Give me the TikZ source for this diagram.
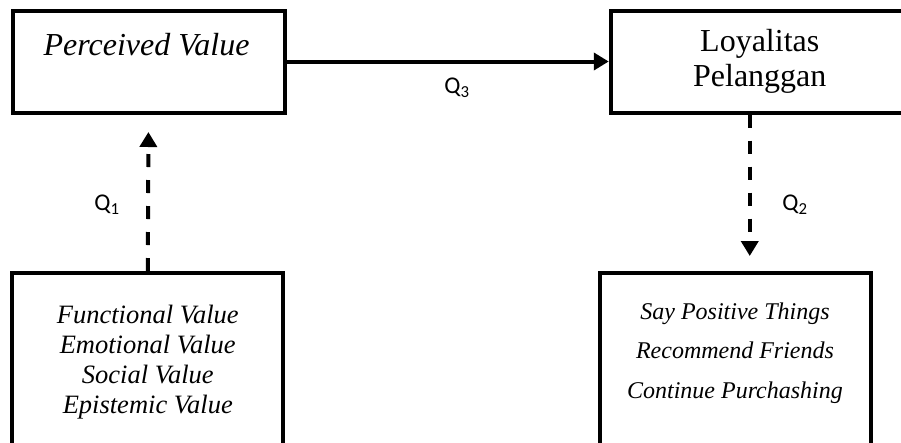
\documentclass[tikz,border=0pt]{standalone}
\usepackage{fontspec}
\setmainfont{Liberation Serif}
\newfontfamily\qfont{Carlito}
\usetikzlibrary{arrows.meta}

\begin{document}
\begin{tikzpicture}[x=1pt,y=-1pt,
		box/.style={rectangle,draw,line width=4pt,inner sep=0pt},
		arr/.style={line width=4pt,-{Triangle[length=15pt,width=17pt]}},
		dasharr/.style={arr,dash pattern=on 13pt off 13pt},
		qlab/.style={font=\qfont\fontsize{24}{28}\selectfont}]
				\useasboundingbox (0,0) rectangle (901,442);
				\clip (0,0) rectangle (901,442);
				
				\node(pv) at (148.5,61.5)[box,minimum width=272pt,minimum height=102pt]{};
				\node(pvtext) at (146.5,55)[anchor=base,font=\itshape\fontsize{32}{36}\selectfont]{Perceived Value};
				\node(loy) at (759.75,61.5)[box,minimum width=298pt,minimum height=102pt,align=center,font=\fontsize{32}{35}\selectfont]{Loyalitas\\Pelanggan};
				\node(fv) at (147.75,362)[box,minimum width=271pt,minimum height=178pt,align=center,font=\itshape\fontsize{26.5}{30}\selectfont]{Functional Value\\Emotional Value\\Social Value\\Epistemic Value};
				\node(li) at (735,362)[box,minimum width=271pt,minimum height=178pt]{};
				\node(litext) at (735,353)[align=center,font=\itshape\fontsize{24}{39.5}\selectfont]{Say Positive Things\\Recommend Friends\\Continue Purchashing};
				
				\draw[arr] (pv.east) -- (loy.west);
				\draw[dasharr,shorten >=17.5pt] (fv.north) -- (pv.south);
				\draw[dasharr,shorten >=15pt] ([xshift=-10pt]loy.south) -- ([xshift=-10pt]loy.south |- li.north);
				
				\node(q3) at (457,88)[qlab]{Q\textsubscript{3}};
				\node(q1) at (107,205)[qlab]{Q\textsubscript{1}};
				\node(q2) at (795,205)[qlab]{Q\textsubscript{2}};
			\end{tikzpicture}
\end{document}
